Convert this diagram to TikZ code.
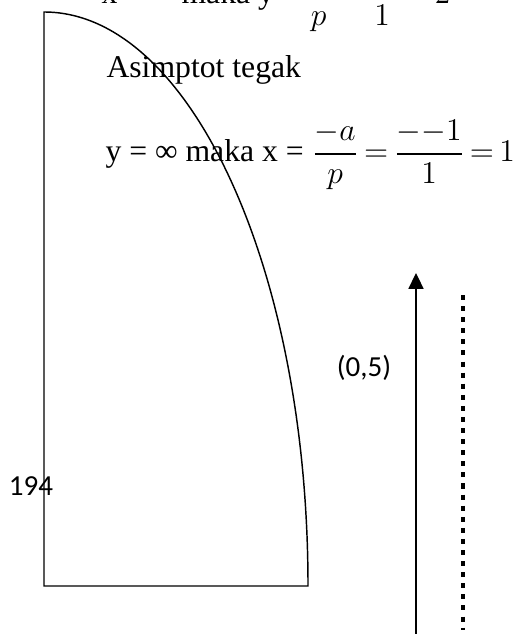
\documentclass[tikz,border=0pt]{standalone}
\usepackage{amsmath}
\usepackage{fontspec}
\setmainfont{Liberation Serif}
\newfontfamily\calibrifont{Carlito}
\usetikzlibrary{arrows.meta}
\newcommand{\tighteq}{\thickmuskip=3mu\relax}
\begin{document}
\begin{tikzpicture}[x=0.3788pt,y=-0.3788pt,
  outline/.style={line width=0.55pt},
  txt/.style={anchor=base west,inner sep=0pt,font=\fontsize{12}{14}\selectfont},
  lbl/.style={inner sep=0pt,font=\calibrifont\fontsize{11}{13}\selectfont}]
\useasboundingbox (0,0) rectangle (514,634);
\clip (0,0) rectangle (514,634);
% quarter ellipse shape
\draw[outline] (44,586) -- (44,12) arc[start angle=-90,end angle=0,x radius=264,y radius=574] -- cycle;
% text lines
\node[txt] (l1) at (101,4) {x = ∞ maka y = $\dfrac{2}{p} = \dfrac{2}{1} = 2$};
\node[txt] (l2) at (106,78) {Asimptot tegak};
\node[txt] (l3) at (105,162) {y = ∞ maka x = $\tighteq\dfrac{-a}{p} = \dfrac{{-}{-}1}{1} = 1$};
% labels
\node[lbl] (p05) at (364,368) {(0,5)};
\node[lbl] (n194) at (31,486) {194};
% arrow
\coordinate (abot) at (416,634);
\coordinate (atop) at (416,273);
\draw[line width=0.55pt,-{Triangle[width=5.7pt,length=6pt]}] (abot) -- (atop);
% dotted asymptote
\coordinate (dtop) at (463,295);
\coordinate (dbot) at (463,630);
\draw[line width=1.5pt,dash pattern=on 1.9pt off 2.3pt] (dtop) -- (dbot);
\end{tikzpicture}
\end{document}
